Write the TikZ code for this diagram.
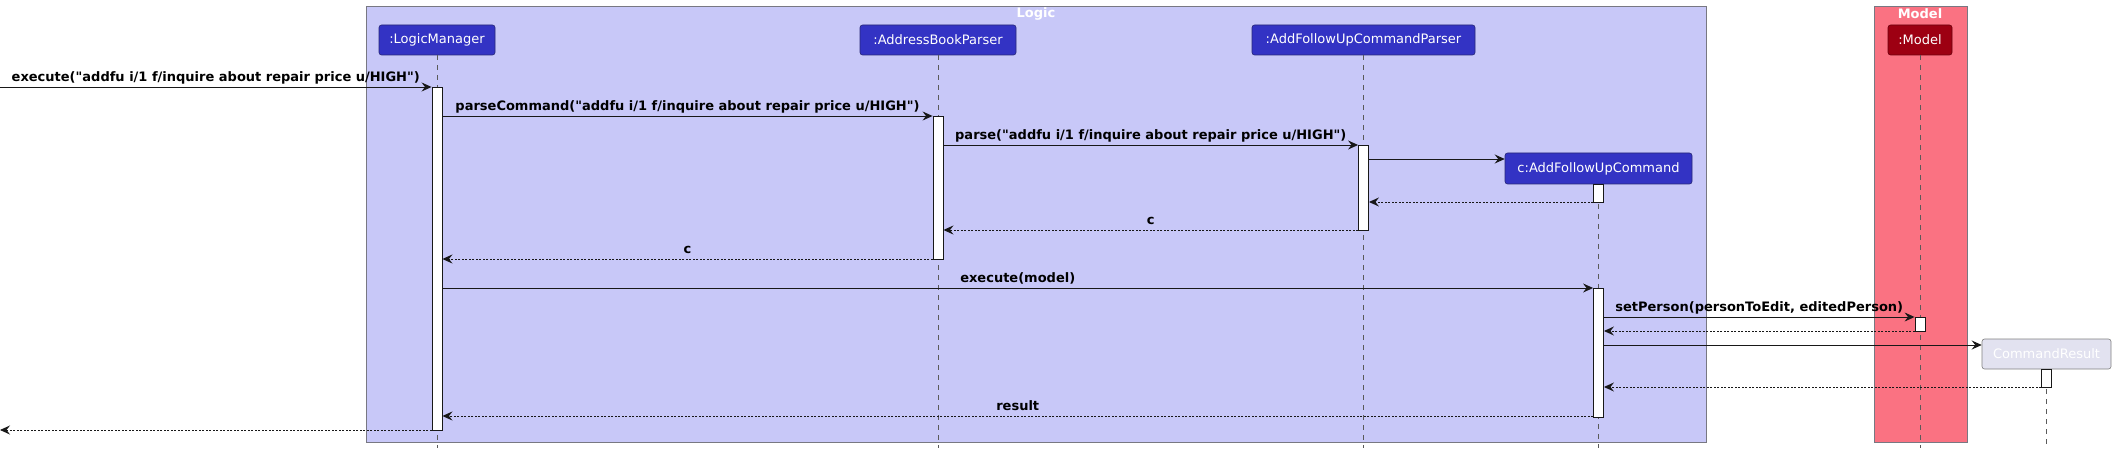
\documentclass[tikz,border=0pt]{standalone}
\usepackage{fontspec}
\setmainfont{DejaVu Sans}[Ligatures=TeXOff]
\usetikzlibrary{arrows.meta,calc}
\definecolor{logicbg}{RGB}{200,200,248}
\definecolor{partblue}{RGB}{51,51,196}
\definecolor{partedge}{RGB}{40,40,120}
\definecolor{modelbg}{RGB}{250,114,130}
\definecolor{modeldark}{RGB}{157,0,18}
\definecolor{crfill}{RGB}{226,226,240}
\definecolor{linec}{RGB}{24,24,24}
\definecolor{grpedge}{RGB}{120,120,130}
\definecolor{lifec}{RGB}{90,90,90}
\tikzset{
  part/.style={draw=partedge, fill=partblue, text=white, rounded corners=2.5pt,
    minimum height=30pt, inner sep=0pt, line width=0.6pt,
    font=\fontsize{13}{15}\selectfont},
  actbar/.style={draw=linec, fill=white, minimum width=10pt, inner sep=0pt, line width=0.9pt},
  lifeline/.style={draw=lifec, dash pattern=on 5pt off 5pt, line width=0.6pt},
  msg/.style={draw=linec, line width=0.9pt, -{Stealth[length=10pt,width=9pt,inset=3.5pt]}},
  ret/.style={msg, dash pattern=on 2pt off 1.5pt},
  lbl/.style={anchor=south, inner sep=2.5pt, text height=10pt, text depth=3pt, text=black,
    font=\fontsize{13}{15}\bfseries\selectfont},
  grp/.style={draw=grpedge, line width=0.9pt},
  grplbl/.style={text=white, inner sep=0pt, font=\fontsize{13}{15}\bfseries\selectfont}
}
\begin{document}
\begin{tikzpicture}[x=1pt,y=-1pt]
\useasboundingbox (0,0) rectangle (2116,454);
% group boxes
\draw[grp, fill=logicbg] (366,6) rectangle (1706,442);
\draw[grp, fill=modelbg] (1874,6) rectangle (1967,442);
\node[grplbl] (glogic) at (1036,14) {Logic};
\node[grplbl] (gmodel) at (1920,14) {Model};
% participants
\node[part, minimum width=116pt] (LM) at (437,40) {:LogicManager};
\node[part, minimum width=156pt] (AB) at (938,40) {:AddressBookParser};
\node[part, minimum width=223pt] (AFP) at (1363.5,40) {:AddFollowUpCommandParser};
\node[part, minimum width=187pt, minimum height=31pt] (CC) at (1598.5,168.5) {c:AddFollowUpCommand};
\node[part, minimum width=64pt, fill=modeldark, draw=modeldark!70!black] (MD) at (1920,40) {:Model};
\node[part, minimum width=129pt, fill=crfill, draw=gray] (CR) at (2046.5,354) {CommandResult};
% lifeline ends
\coordinate (eLM) at (437,448);
\coordinate (eAB) at (938,448);
\coordinate (eAFP) at (1363.5,448);
\coordinate (eCC) at (1598.5,448);
\coordinate (eMD) at (1920,448);
\coordinate (eCR) at (2046.5,448);
\draw[lifeline] (LM.south) -- (eLM);
\draw[lifeline] (AB.south) -- (eAB);
\draw[lifeline] (AFP.south) -- (eAFP);
\draw[lifeline] (CC.south) -- (eCC);
\draw[lifeline] (MD.south) -- (eMD);
\draw[lifeline] (CR.south) -- (eCR);
% activation bars
\node[actbar, minimum height=343pt] (aLM) at (437,258.5) {};
\node[actbar, minimum height=143pt] (aAB) at (938,187.5) {};
\node[actbar, minimum height=85pt] (aAFP) at (1363.5,187.5) {};
\node[actbar, minimum height=18pt] (aCC1) at (1598.5,193) {};
\node[actbar, minimum height=129pt] (aCC2) at (1598.5,352.5) {};
\node[actbar, minimum height=14pt] (aMD) at (1920,324) {};
\node[actbar, minimum height=18pt] (aCR) at (2046.5,378) {};
% message levels
\coordinate (start) at (0,87);
\coordinate (y2) at (0,116);
\coordinate (y3) at (0,145);
\coordinate (y4) at (0,159);
\coordinate (y5) at (0,202);
\coordinate (y6) at (0,230);
\coordinate (y7) at (0,259);
\coordinate (y8) at (0,288);
\coordinate (y9) at (0,317);
\coordinate (y10) at (0,331);
\coordinate (y11) at (0,345);
\coordinate (y12) at (0,387);
\coordinate (y13) at (0,416);
\coordinate (finish) at (0,430);
% messages
\draw[msg] (start) -- node[lbl]{execute("addfu i/1 f/inquire about repair price u/HIGH")} (aLM.west |- start);
\draw[msg] (aLM.east |- y2) -- node[lbl]{parseCommand("addfu i/1 f/inquire about repair price u/HIGH")} (aAB.west |- y2);
\draw[msg] (aAB.east |- y3) -- node[lbl]{parse("addfu i/1 f/inquire about repair price u/HIGH")} (aAFP.west |- y3);
\draw[msg] (aAFP.east |- y4) -- (CC.west |- y4);
\draw[ret] (aCC1.west |- y5) -- (aAFP.east |- y5);
\draw[ret] (aAFP.west |- y6) -- node[lbl]{c} (aAB.east |- y6);
\draw[ret] (aAB.west |- y7) -- node[lbl]{c} (aLM.east |- y7);
\draw[msg] (aLM.east |- y8) -- node[lbl]{execute(model)} (aCC2.west |- y8);
\draw[msg] (aCC2.east |- y9) -- node[lbl]{setPerson(personToEdit, editedPerson)} (aMD.west |- y9);
\draw[ret] (aMD.west |- y10) -- (aCC2.east |- y10);
\draw[msg] (aCC2.east |- y11) -- (CR.west |- y11);
\draw[ret] (aCR.west |- y12) -- (aCC2.east |- y12);
\draw[ret] (aCC2.west |- y13) -- node[lbl]{result} (aLM.east |- y13);
\draw[ret] (aLM.west |- finish) -- (finish);
\end{tikzpicture}
\end{document}
